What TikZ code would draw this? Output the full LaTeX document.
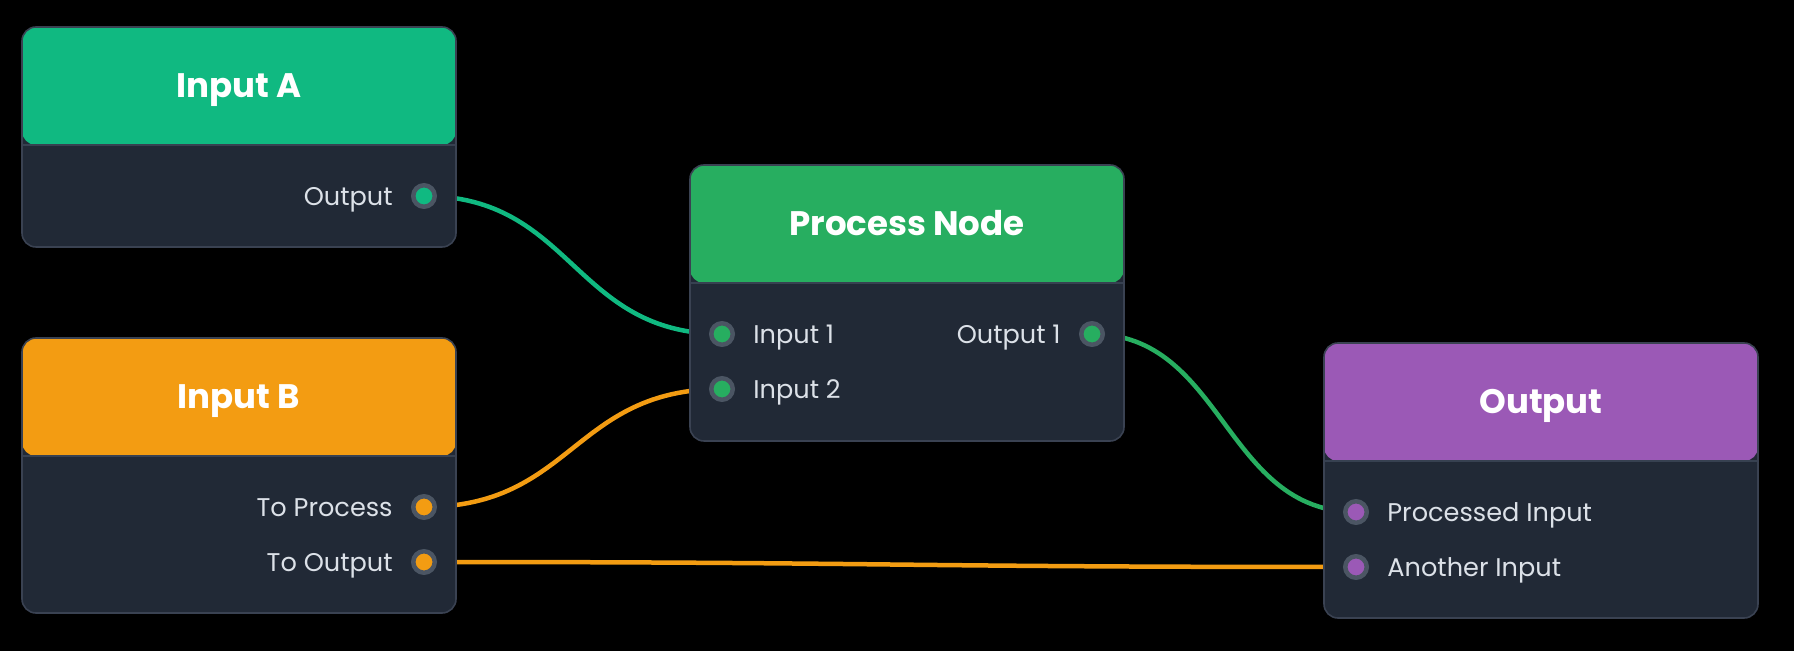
\documentclass[tikz,border=0pt]{standalone}
\usepackage{fontspec}
\setmainfont{Poppins}
\definecolor{bodyc}{HTML}{212936}
\definecolor{borderc}{HTML}{3A4252}
\definecolor{sepc}{HTML}{374151}
\definecolor{ringc}{HTML}{4B5563}
\definecolor{labelc}{HTML}{DCE1E8}
\definecolor{hdrA}{HTML}{10B981}
\definecolor{hdrB}{HTML}{F39C12}
\definecolor{hdrP}{HTML}{27AE60}
\definecolor{hdrO}{HTML}{9B59B6}
\pgfdeclarelayer{bg}
\pgfdeclarelayer{edges}
\pgfsetlayers{bg,edges,main}
\tikzset{
  nbox/.style={draw=borderc, line width=0.8pt, fill=bodyc, rounded corners=7pt,
    minimum width=217pt, inner sep=0pt,
    path picture={
      \fill[#1] (path picture bounding box.north west) rectangle ([yshift=-59pt]path picture bounding box.north east);
      \draw[sepc, line width=0.8pt] ([yshift=-59pt]path picture bounding box.north west) -- ([yshift=-59pt]path picture bounding box.north east);
    }},
  ttl/.style={anchor=base, text=white, font=\fontsize{17}{20}\selectfont\bfseries, inner sep=0pt},
  lblr/.style={anchor=base east, text=labelc, font=\fontsize{12.8}{15}\selectfont, inner sep=0pt},
  lbll/.style={anchor=base west, text=labelc, font=\fontsize{12.8}{15}\selectfont, inner sep=0pt},
  port/.style={circle, draw=ringc, line width=2.25pt, fill=#1, minimum size=10.75pt, inner sep=0pt},
  wire/.style={draw=#1, line width=2.25pt},
}
\begin{document}
\begin{tikzpicture}[x=0.5pt, y=-0.5pt]
\begin{pgfonlayer}{bg}
\fill[black] (0,0) rectangle (1794,651);
\end{pgfonlayer}
\useasboundingbox (0,0) rectangle (1794,651);

% boxes
\node[nbox=hdrA, minimum height=110pt] (inA) at (239,137) {};
\node[nbox=hdrB, minimum height=137.5pt] (inB) at (239,475.5) {};
\node[nbox=hdrP, minimum height=138pt] (proc) at (907,303) {};
\node[nbox=hdrO, minimum height=137.5pt] (outN) at (1541,480.5) {};

% titles
\node[ttl] (tA) at (239,98) {Input A};
\node[ttl] (tB) at (239,409) {Input B};
\node[ttl] (tP) at (907,236) {Process Node};
\node[ttl] (tO) at (1541,414) {Output};

% ports
\node[port=hdrA] (pAo) at (424,196) {};
\node[port=hdrB] (pBp) at (424,507) {};
\node[port=hdrB] (pBo) at (424,562) {};
\node[port=hdrP] (pP1) at (722,334) {};
\node[port=hdrP] (pP2) at (722,389) {};
\node[port=hdrP] (pPo) at (1092,334) {};
\node[port=hdrO] (pO1) at (1356,512) {};
\node[port=hdrO] (pO2) at (1356,567) {};

% labels
\node[lblr] (lAo) at (393,206) {Output};
\node[lblr] (lBp) at (393,517) {To Process};
\node[lblr] (lBo) at (393,572) {To Output};
\node[lbll] (lP1) at (753,344) {Input 1};
\node[lbll] (lP2) at (753,399) {Input 2};
\node[lblr] (lPo) at (1061,344) {Output 1};
\node[lbll] (lO1) at (1387,522) {Processed Input};
\node[lbll] (lO2) at (1387,577) {Another Input};

% connectors
\begin{pgfonlayer}{edges}
\draw[wire=hdrA] (pAo.center) .. controls +(149,0) and +(-149,0) .. (pP1.center);
\draw[wire=hdrB] (pBp.center) .. controls +(149,0) and +(-149,0) .. (pP2.center);
\draw[wire=hdrB] (pBo.center) .. controls +(466,0) and +(-466,0) .. (pO2.center);
\draw[wire=hdrP] (pPo.center) .. controls +(132,0) and +(-132,0) .. (pO1.center);
\end{pgfonlayer}
\end{tikzpicture}
\end{document}
